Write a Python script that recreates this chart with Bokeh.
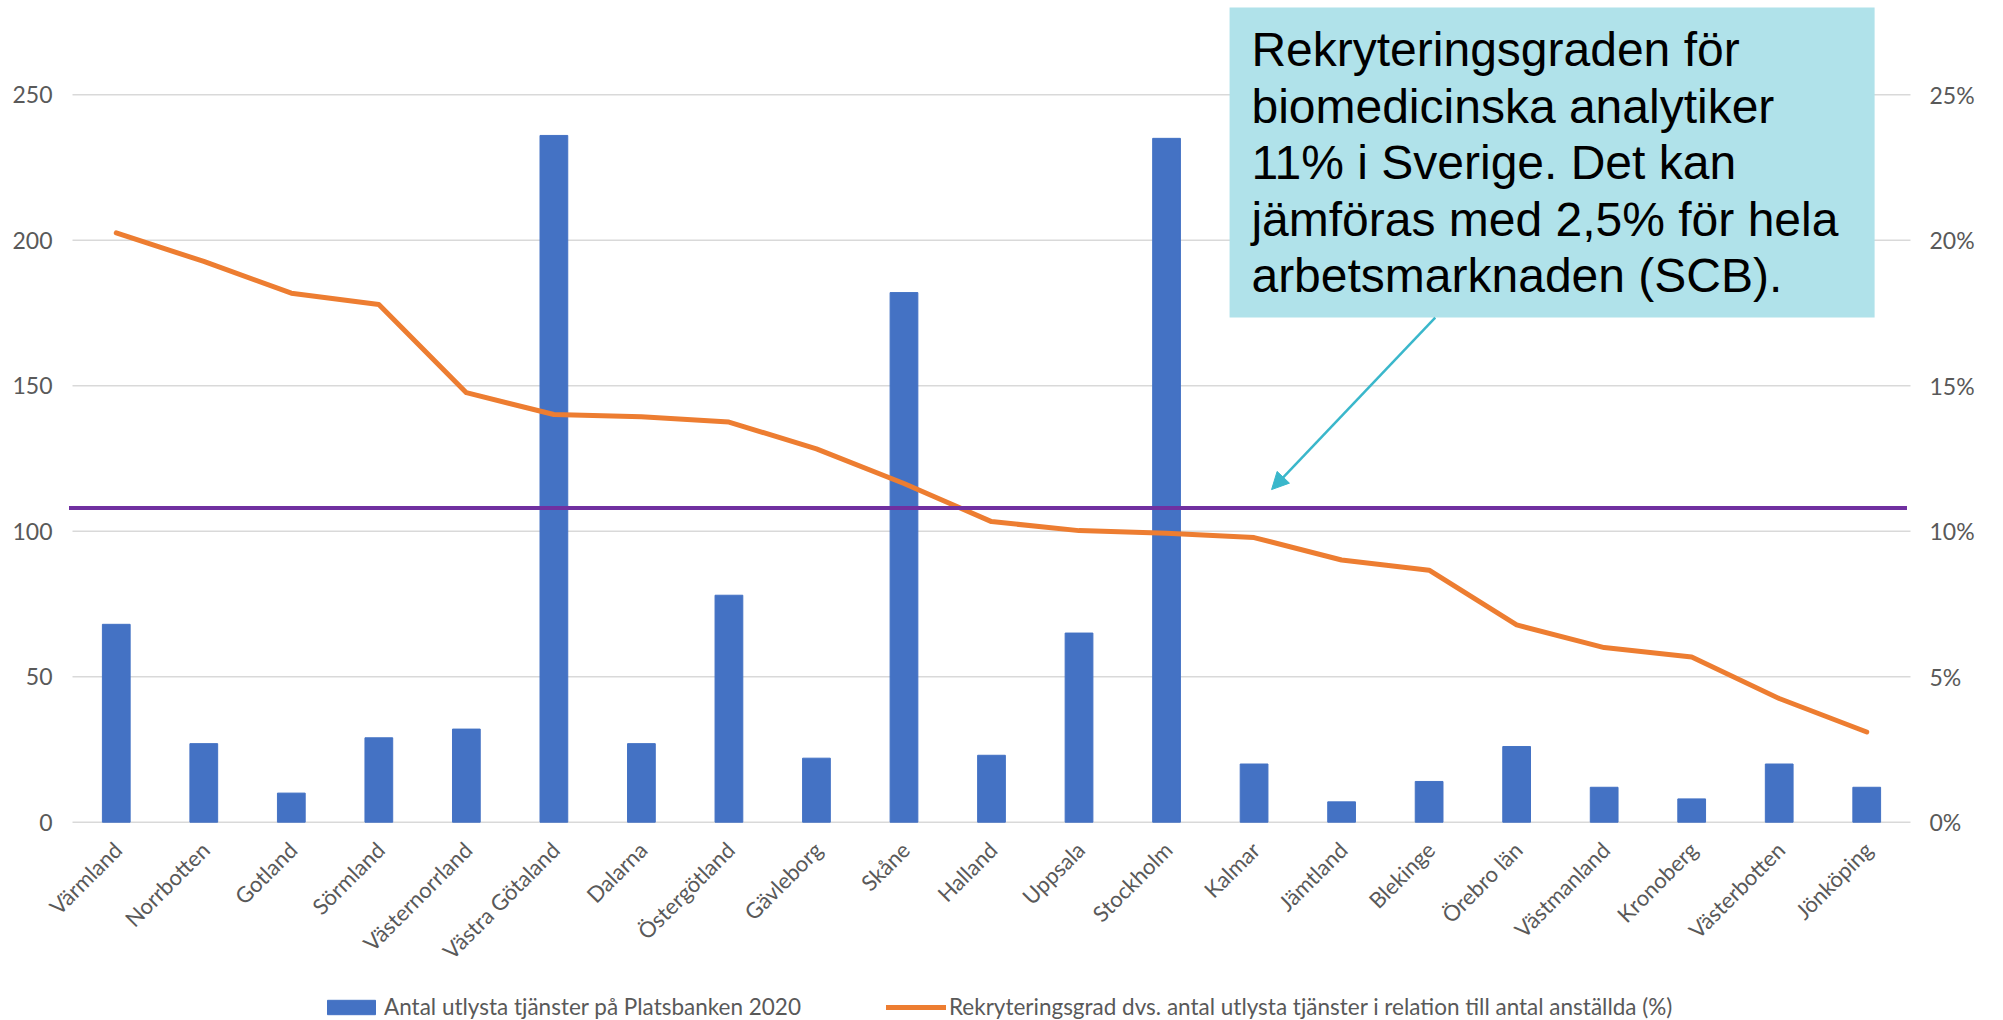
import math
from bokeh.plotting import figure
from bokeh.models import (FactorRange, Range1d, LinearAxis, FixedTicker, BoxAnnotation,
                          Label, Arrow, NormalHead, Legend, LegendItem, PrintfTickFormatter,
                          ColumnDataSource)
from bokeh.embed import file_html
from bokeh.resources import INLINE
from bokeh.core.properties import value

# ---- data ----
regions = ["Värmland", "Norrbotten", "Gotland", "Sörmland", "Västernorrland", "Västra Götaland",
           "Dalarna", "Östergötland", "Gävleborg", "Skåne", "Halland", "Uppsala", "Stockholm",
           "Kalmar", "Jämtland", "Blekinge", "Örebro län", "Västmanland", "Kronoberg",
           "Västerbotten", "Jönköping"]
jobs = [68, 27, 10, 29, 32, 236, 27, 78, 22, 182, 23, 65, 235, 20, 7, 14, 26, 12, 8, 20, 12]
rate_pct = [20.25, 19.27, 18.18, 17.79, 14.76, 14.01, 13.93, 13.75, 12.83, 11.64, 10.33, 10.02,
            9.93, 9.78, 9.01, 8.66, 6.78, 6.0, 5.68, 4.25, 3.1]
national_rate_pct = 10.8
left_ticks = [0, 50, 100, 150, 200, 250]
right_ticks = [0, 5, 10, 15, 20, 25]
bar_label = "Antal utlysta tjänster på Platsbanken 2020"
line_label = "Rekryteringsgrad dvs. antal utlysta tjänster i relation till antal anställda (%)"
note_lines = ["Rekryteringsgraden för",
              "biomedicinska analytiker",
              "11% i Sverige. Det kan",
              "jämföras med 2,5% för hela",
              "arbetsmarknaden (SCB)."]

# ---- layout constants ----
PX_PER_UNIT = 2.91           # pixels per left-axis unit
FRAME_H = 1020
ZERO_FROM_TOP = 821.7
LEFT_MAX = ZERO_FROM_TOP / PX_PER_UNIT
LEFT_MIN = -(FRAME_H - ZERO_FROM_TOP) / PX_PER_UNIT
RIGHT_SCALE = 10.0
X_PAD = 0.32                 # category units of extra room left/right of the bars
GRAY = "#595959"
GRID = "#D9D9D9"
FONT = "Lato"
n = len(regions)

p = figure(x_range=FactorRange(factors=regions, range_padding=X_PAD,
                               range_padding_units="absolute"),
           y_range=Range1d(LEFT_MIN, LEFT_MAX), x_axis_location=None,
           width=2003, height=1020, output_backend="svg", toolbar_location=None,
           min_border_left=44, min_border_right=65, min_border_top=0, min_border_bottom=0)
p.outline_line_color = None
p.background_fill_color = "white"
p.border_fill_color = "white"
p.extra_y_ranges = {"pct": Range1d(LEFT_MIN / RIGHT_SCALE, LEFT_MAX / RIGHT_SCALE)}
p.xgrid.grid_line_color = None
p.ygrid.grid_line_color = None

# horizontal gridlines over the category span only
p.segment(x0=[0] * len(left_ticks), x1=[n] * len(left_ticks), y0=left_ticks, y1=left_ticks,
          line_color=GRID, line_width=1.5)

# left axis
ya = p.yaxis[0]
ya.ticker = FixedTicker(ticks=left_ticks)
ya.axis_line_color = None
ya.major_tick_line_color = None
ya.minor_tick_line_color = None
ya.major_tick_out = 0
ya.major_tick_in = 0
ya.major_label_standoff = -8
ya.major_label_text_font = FONT
ya.major_label_text_font_size = "23px"
ya.major_label_text_color = GRAY

# right axis
ra = LinearAxis(y_range_name="pct", ticker=FixedTicker(ticks=right_ticks),
                formatter=PrintfTickFormatter(format="%d%%"))
ra.axis_line_color = None
ra.major_tick_line_color = None
ra.minor_tick_line_color = None
ra.major_tick_out = 0
ra.major_tick_in = 0
ra.major_label_standoff = -9
ra.major_label_text_font = FONT
ra.major_label_text_font_size = "23px"
ra.major_label_text_color = GRAY
p.add_layout(ra, "right")

# bars and line
bars = p.vbar(x=regions, top=jobs, width=0.317, fill_color="#4472C4", line_color="#4472C4")
line = p.line(x=regions, y=rate_pct, y_range_name="pct", line_color="#ED7D31", line_width=5,
              line_join="round", line_cap="round")

# national level line
p.segment(x0=[-0.04], x1=[n - 0.04], y0=[national_rate_pct * RIGHT_SCALE],
          y1=[national_rate_pct * RIGHT_SCALE], line_color="#7030A0", line_width=4)

# category labels (rotated, like the category axis)
cat_src = ColumnDataSource(dict(x=regions, y=[0] * n))
p.text(x="x", y="y", text="x", source=cat_src, angle=math.pi / 4,
       text_align="right", text_baseline="top", x_offset=-8, y_offset=14,
       text_font=value(FONT), text_font_size="22px", text_color=GRAY)

# annotation box with text and arrow
p.add_layout(BoxAnnotation(left=13.22, right=20.59, top=280.0, bottom=173.4,
                           fill_color="#B0E2EA", fill_alpha=1.0, line_color=None))
for i, t in enumerate(note_lines):
    p.add_layout(Label(x=13.47, y=(ZERO_FROM_TOP - (22.5 + 56.5 * i)) / PX_PER_UNIT, text=t,
                       text_font="Liberation Sans", text_font_size="48px", text_color="black",
                       text_baseline="top", text_align="left"))
p.add_layout(Arrow(x_start=15.57, y_start=173.4, x_end=13.70, y_end=114.3,
                   line_color="#3AB7CB", line_width=2.5,
                   end=NormalHead(size=17, fill_color="#3AB7CB", line_color="#3AB7CB")))

# legend
legend = Legend(items=[LegendItem(label=bar_label, renderers=[bars]),
                       LegendItem(label=line_label, renderers=[line])],
                orientation="horizontal", location=(277, 0),
                padding=0, margin=0, spacing=85, label_standoff=3,
                glyph_width=60, glyph_height=18, label_height=24,
                label_text_font=FONT, label_text_font_size="22.5px", label_text_color=GRAY,
                border_line_color=None, background_fill_alpha=0)
p.add_layout(legend, "center")

open("out.html", "w").write(file_html(p, INLINE))
